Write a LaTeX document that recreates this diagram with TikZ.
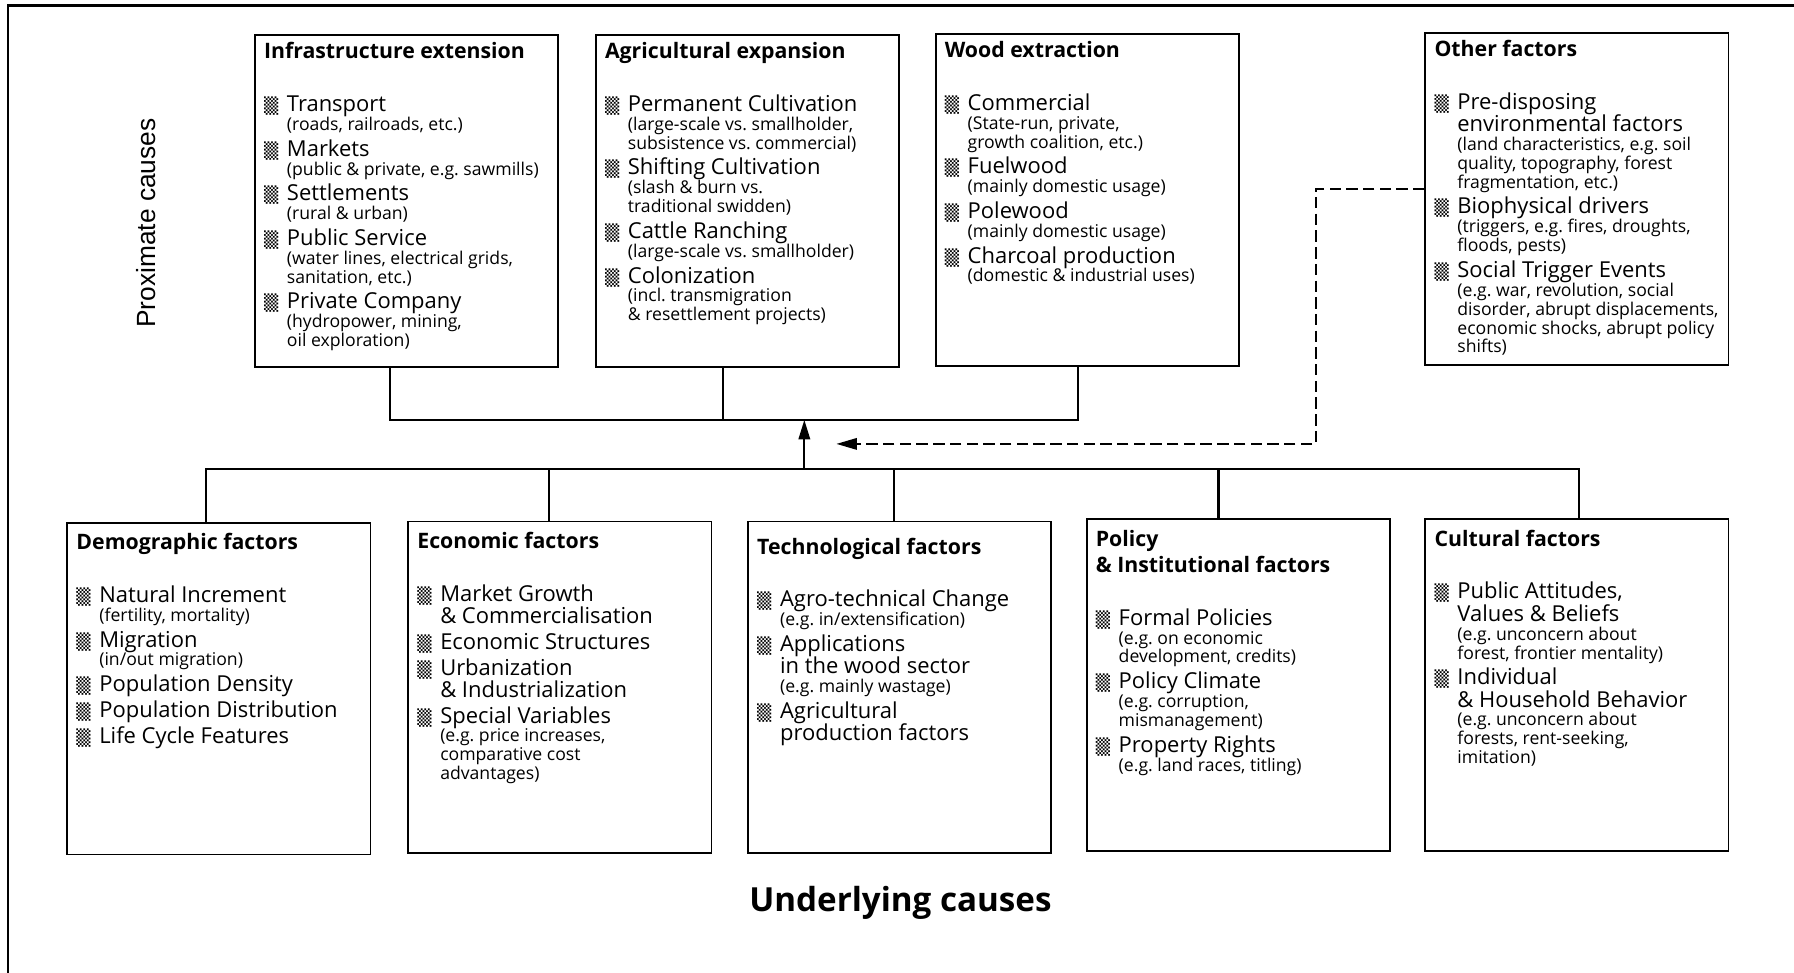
\documentclass[tikz,border=0pt]{standalone}
\usepackage{fontspec}
\usepackage{graphicx}
\setmainfont{Open Sans}
\newfontfamily\proxfont{Liberation Sans}
\newfontfamily\symfont{DejaVu Sans}
\usetikzlibrary{arrows.meta}

% hatched square in front of each item
\newcommand\blt{\resizebox{6.2pt}{6.4pt}{\symfont\char"2592}}
\newcommand\mainfnt{\fontsize{9.6}{9.75}\selectfont}
\newcommand\subfnt{\fontsize{7.7}{8.25}\selectfont}
\newcommand\itm[2]{\par\vspace{1.5pt}{\mainfnt\leavevmode\llap{\blt\hspace{3.8pt}}#1\par}%
  \if\relax\detokenize{#2}\relax\else{\subfnt #2\par}\fi}
\newcommand\boxtext[3][0pt]{\makebox[124.5pt][l]{\parbox[c][138.5pt][t]{200pt}{\raggedright\frenchspacing
  \vspace*{#1}{\fontsize{9.3}{11.5}\selectfont\bfseries\rule{0pt}{7pt}#2\par}%
  \vspace{11.75pt}\leftskip=10pt #3}}}

\begin{document}
\begin{tikzpicture}[x=0.5pt,y=0.5pt,
    factor/.style={draw,line width=0.8pt,anchor=north west,inner xsep=4pt,inner ysep=3.25pt},
    conn/.style={draw,line width=0.9pt},
    trigger/.style={draw,line width=0.9pt,dash pattern=on 5pt off 2.3pt}]
  \useasboundingbox (0,0) rectangle (1568,850);
  \draw[line width=1.3pt] (7,0) |- (1568,845);

  \node[rotate=90,font=\proxfont\fontsize{11.5}{12}\selectfont] (prox) at (128,655) {Proximate causes};

  % proximate causes
  \node[factor] (infra) at (222,820) {\boxtext{Infrastructure extension}{%
    \itm{Transport}{(roads, railroads, etc.)}
    \itm{Markets}{(public \& private, e.g. sawmills)}
    \itm{Settlements}{(rural \& urban)}
    \itm{Public Service}{(water lines, electrical grids,\newline sanitation, etc.)}
    \itm{Private Company}{(hydropower, mining,\newline oil exploration)}}};
  \node[factor] (agri) at (520,820) {\boxtext{Agricultural expansion}{%
    \itm{Permanent Cultivation}{(large-scale vs. smallholder,\newline subsistence vs. commercial)}
    \itm{Shifting Cultivation}{(slash \& burn vs.\newline traditional swidden)}
    \itm{Cattle Ranching}{(large-scale vs. smallholder)}
    \itm{Colonization}{(incl. transmigration\newline \& resettlement projects)}}};
  \node[factor] (wood) at (817,821) {\boxtext{Wood extraction}{%
    \itm{Commercial}{(State-run, private,\newline growth coalition, etc.)}
    \itm{Fuelwood}{(mainly domestic usage)}
    \itm{Polewood}{(mainly domestic usage)}
    \itm{Charcoal production}{(domestic \& industrial uses)}}};
  \node[factor] (other) at (1245,822) {\boxtext{Other factors}{%
    \itm{Pre-disposing\newline environmental factors}{(land characteristics, e.g. soil\newline quality, topography, forest\newline fragmentation, etc.)}
    \itm{Biophysical drivers}{(triggers, e.g. fires, droughts,\newline floods, pests)}
    \itm{Social Trigger Events}{(e.g. war, revolution, social\newline disorder, abrupt displacements,\newline economic shocks, abrupt policy\newline shifts)}}};

  % underlying causes
  \node[factor] (demo) at (58,394) {\boxtext[1.5pt]{Demographic factors}{%
    \itm{Natural Increment}{(fertility, mortality)}
    \itm{Migration}{(in/out migration)}
    \itm{Population Density}{}
    \itm{Population Distribution}{}
    \itm{Life Cycle Features}{}}};
  \node[factor] (econ) at (356,395) {\boxtext[1.5pt]{Economic factors}{%
    \itm{Market Growth\newline \& Commercialisation}{}
    \itm{Economic Structures}{}
    \itm{Urbanization\newline \& Industrialization}{}
    \itm{Special Variables}{(e.g. price increases,\newline comparative cost\newline advantages)}}};
  \node[factor] (tech) at (653,395) {\boxtext[4pt]{Technological factors}{%
    \itm{Agro-technical Change}{(e.g. in/extensification)}
    \itm{Applications\newline in the wood sector}{(e.g. mainly wastage)}
    \itm{Agricultural\newline production factors}{}}};
  \node[factor] (policy) at (949,397) {\boxtext[1.5pt]{Policy\newline \& Institutional factors}{%
    \itm{Formal Policies}{(e.g. on economic\newline development, credits)}
    \itm{Policy Climate}{(e.g. corruption,\newline mismanagement)}
    \itm{Property Rights}{(e.g. land races, titling)}}};
  \node[factor] (cult) at (1245,397) {\boxtext[1.5pt]{Cultural factors}{%
    \itm{Public Attitudes,\newline Values \& Beliefs}{(e.g. unconcern about\newline forest, frontier mentality)}
    \itm{Individual\newline \& Household Behavior}{(e.g. unconcern about\newline forests, rent-seeking,\newline imitation)}}};

  \node[font=\bfseries\fontsize{14.5}{16}\selectfont] (under) at (787,61) {Underlying causes};

  % upper bus
  \coordinate (b1) at (341,483);
  \coordinate (b2) at (632,483);
  \coordinate (b3) at (942,483);
  \path[conn] (b1 |- infra.south) -- (b1) -- (b3) -- (b3 |- wood.south);
  \path[conn] (b2 |- agri.south) -- (b2);

  % lower bus
  \coordinate (d1) at (180,440);
  \coordinate (d2) at (480,440);
  \coordinate (d3) at (781,440);
  \coordinate (d4) at (1065,440);
  \coordinate (d5) at (1380,440);
  \path[conn] (d1 |- demo.north) -- (d1) -- (d5) -- (d5 |- cult.north);
  \path[conn] (d2 |- econ.north) -- (d2);
  \path[conn] (d3 |- tech.north) -- (d3);
  \path[conn] (d4 |- policy.north) -- (d4);

  \coordinate (hub) at (703,440);
  \coordinate (hubtop) at (703,483);
  \path[conn,-{Triangle[length=8.5pt,width=5pt]}] (hub) -- (hubtop);

  % other factors feed in
  \coordinate (k1) at (1150,685);
  \coordinate (k2) at (731,462);
  \path[trigger,-{Triangle[length=9pt,width=5pt]}] (k1 -| other.west) -- (k1) |- (k2);
\end{tikzpicture}
\end{document}
